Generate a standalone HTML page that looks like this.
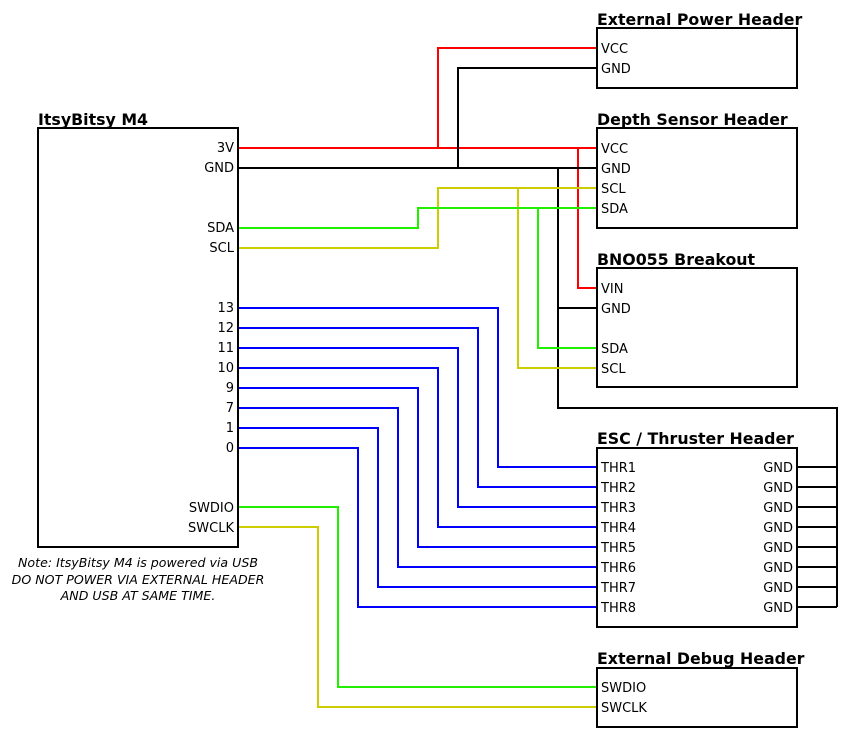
<!DOCTYPE html>
<html><head><meta charset="utf-8"><style>
html,body{margin:0;padding:0;background:#fff;}
svg{display:block;}
text{font-family:"DejaVu Sans","Liberation Sans",sans-serif;font-size:13px;fill:#000;}
.t{font-weight:bold;font-size:15.8px;}
.r{text-anchor:end;}
.n{font-style:italic;font-size:12.6px;text-anchor:middle;}
</style></head><body>
<svg width="849" height="739" viewBox="0 0 849 739" xmlns="http://www.w3.org/2000/svg">
<g fill="none" stroke-width="2">
<g stroke="#ff0000">
<polyline points="238,148 597,148"/>
<polyline points="438,148 438,48 597,48"/>
<polyline points="578,148 578,288 597,288"/>
</g>
<g stroke="#000">
<polyline points="238,168 597,168"/>
<polyline points="458,168 458,68 597,68"/>
<polyline points="558,168 558,408 837,408 837,607"/>
<polyline points="558,308 597,308"/>
<path d="M797,467H837M797,487H837M797,507H837M797,527H837M797,547H837M797,567H837M797,587H837M797,607H837"/>
</g>
<g stroke="#cccc00">
<polyline points="238,248 438,248 438,188 597,188"/>
<polyline points="518,188 518,368 597,368"/>
<polyline points="238,527 318,527 318,707 597,707"/>
</g>
<g stroke="#22ee00">
<polyline points="238,228 418,228 418,208 597,208"/>
<polyline points="538,208 538,348 597,348"/>
<polyline points="238,507 338,507 338,687 597,687"/>
</g>
<g stroke="#0000ff">
<polyline points="238,308 498,308 498,467 597,467"/>
<polyline points="238,328 478,328 478,487 597,487"/>
<polyline points="238,348 458,348 458,507 597,507"/>
<polyline points="238,368 438,368 438,527 597,527"/>
<polyline points="238,388 418,388 418,547 597,547"/>
<polyline points="238,408 398,408 398,567 597,567"/>
<polyline points="238,428 378,428 378,587 597,587"/>
<polyline points="238,448 358,448 358,607 597,607"/>
</g>
<g stroke="#000" fill="#fff">
<rect x="38" y="128" width="200" height="419"/>
<rect x="597" y="28" width="200" height="60"/>
<rect x="597" y="128" width="200" height="100"/>
<rect x="597" y="268" width="200" height="119"/>
<rect x="597" y="448" width="200" height="179"/>
<rect x="597" y="668" width="200" height="59"/>
</g>
</g>
<text class="t" x="38" y="125">ItsyBitsy M4</text>
<text class="t" x="597" y="25">External Power Header</text>
<text class="t" x="597" y="125">Depth Sensor Header</text>
<text class="t" x="597" y="265">BNO055 Breakout</text>
<text class="t" x="597" y="444">ESC / Thruster Header</text>
<text class="t" x="597" y="664">External Debug Header</text>
<text class="r" x="234" y="152">3V</text>
<text class="r" x="234" y="172">GND</text>
<text class="r" x="234" y="232">SDA</text>
<text class="r" x="234" y="252">SCL</text>
<text class="r" x="234" y="312">13</text>
<text class="r" x="234" y="332">12</text>
<text class="r" x="234" y="352">11</text>
<text class="r" x="234" y="372">10</text>
<text class="r" x="234" y="392">9</text>
<text class="r" x="234" y="412">7</text>
<text class="r" x="234" y="432">1</text>
<text class="r" x="234" y="452">0</text>
<text class="r" x="234" y="512">SWDIO</text>
<text class="r" x="234" y="532">SWCLK</text>
<text x="601" y="53">VCC</text>
<text x="601" y="73">GND</text>
<text x="601" y="153">VCC</text>
<text x="601" y="173">GND</text>
<text x="601" y="193">SCL</text>
<text x="601" y="213">SDA</text>
<text x="601" y="293">VIN</text>
<text x="601" y="313">GND</text>
<text x="601" y="353">SDA</text>
<text x="601" y="373">SCL</text>
<text x="601" y="472">THR1</text>
<text x="601" y="492">THR2</text>
<text x="601" y="512">THR3</text>
<text x="601" y="532">THR4</text>
<text x="601" y="552">THR5</text>
<text x="601" y="572">THR6</text>
<text x="601" y="592">THR7</text>
<text x="601" y="612">THR8</text>
<text class="r" x="793" y="472">GND</text>
<text class="r" x="793" y="492">GND</text>
<text class="r" x="793" y="512">GND</text>
<text class="r" x="793" y="532">GND</text>
<text class="r" x="793" y="552">GND</text>
<text class="r" x="793" y="572">GND</text>
<text class="r" x="793" y="592">GND</text>
<text class="r" x="793" y="612">GND</text>
<text x="601" y="692">SWDIO</text>
<text x="601" y="712">SWCLK</text>
<text class="n" x="138" y="567">Note: ItsyBitsy M4 is powered via USB</text>
<text class="n" x="138" y="584">DO NOT POWER VIA EXTERNAL HEADER</text>
<text class="n" x="138" y="600">AND USB AT SAME TIME.</text>
</svg>
</body></html>
